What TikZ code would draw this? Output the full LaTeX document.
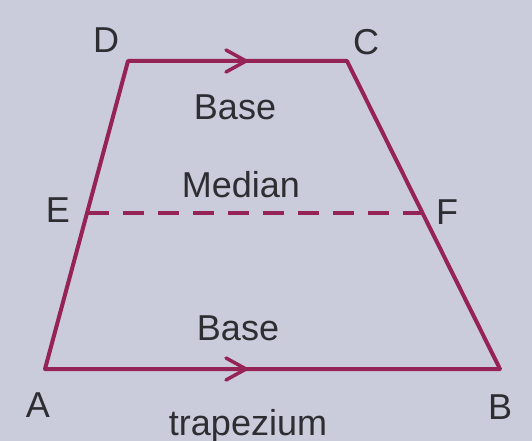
\documentclass[tikz,border=0pt]{standalone}
\usepackage{fontspec}
\setmainfont{Liberation Sans}
\begin{document}
\begin{tikzpicture}[x=1pt,y=-1pt,
  edge/.style={draw=linec,line width=4pt,line join=round},
  lbl/.style={text=textc,font=\fontsize{36}{36}\selectfont,inner sep=0pt},
  chev/.style={draw=linec,line width=3.5pt,line cap=round,line join=round}]
\definecolor{bgc}{RGB}{202,203,219}
\definecolor{linec}{RGB}{150,35,85}
\definecolor{textc}{RGB}{45,45,50}
\fill[bgc] (0,0) rectangle (532,441);
\useasboundingbox (0,0) rectangle (532,441);
\coordinate (A) at (45,369);
\coordinate (B) at (500,369);
\coordinate (C) at (347,61);
\coordinate (D) at (128,61);
\coordinate (E) at (88,213);
\coordinate (F) at (428,213);
\draw[edge] (A) -- (B) -- (C) -- (D) -- cycle;
\draw[edge,line width=3.8pt,dash pattern=on 21pt off 14pt] (E) -- (F);
\coordinate (m1) at (246,61);
\coordinate (m2) at (246,369);
\draw[chev] ([shift={(-20,-11)}]m1) -- (m1) -- ([shift={(-20,11)}]m1);
\draw[chev] ([shift={(-20,-11)}]m2) -- (m2) -- ([shift={(-20,11)}]m2);
\node[lbl] (lD) at (106,40) {D};
\node[lbl] (lC) at (366,42) {C};
\node[lbl] (lE) at (58,210) {E};
\node[lbl] (lF) at (447,212) {F};
\node[lbl] (lA) at (38,405) {A};
\node[lbl] (lB) at (500,407) {B};
\node[lbl] (b1) at (235,107) {Base};
\node[lbl] (med) at (241,185) {Median};
\node[lbl] (b2) at (238,328) {Base};
\node[lbl] (trap) at (248,426) {trapezium};
\end{tikzpicture}
\end{document}
